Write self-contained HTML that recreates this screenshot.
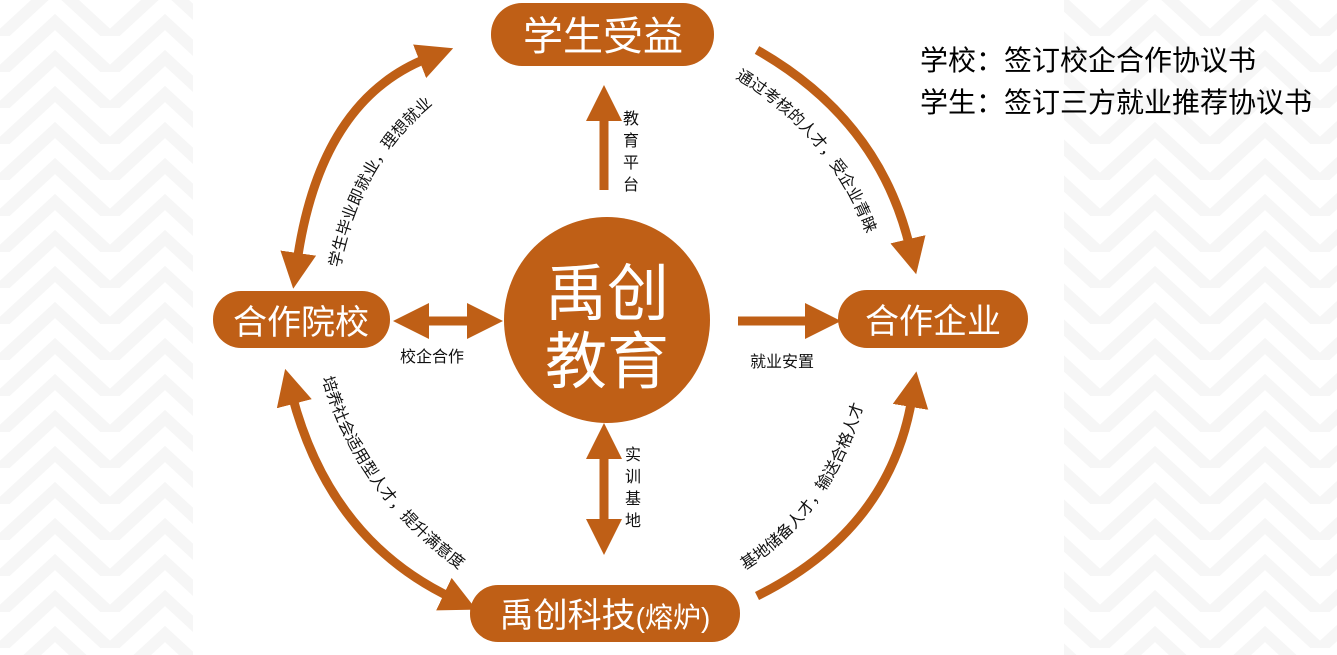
<!DOCTYPE html>
<html><head><meta charset="utf-8"><style>
html,body{margin:0;padding:0;background:#fff;}
svg{display:block;font-family:"Liberation Sans","Noto Sans CJK SC",sans-serif;}
</style></head><body>
<svg width="1337" height="655" viewBox="0 0 1337 655" xmlns="http://www.w3.org/2000/svg">
<defs>
<pattern id="chev" width="110" height="36" patternUnits="userSpaceOnUse">
<polyline points="-10,46 55,-14 120,46" fill="none" stroke="#f6f6f6" stroke-width="12"/>
<polyline points="-10,82 55,22 120,82" fill="none" stroke="#f6f6f6" stroke-width="12"/>
</pattern>
<marker id="ah" markerWidth="4" markerHeight="4" refX="1" refY="2" orient="auto" markerUnits="strokeWidth">
<path d="M0,0 L4,2 L0,4 Z" fill="#bf5f16"/></marker>
<marker id="ahs" markerWidth="4" markerHeight="4" refX="3" refY="2" orient="auto" markerUnits="strokeWidth">
<path d="M4,0 L0,2 L4,4 Z" fill="#bf5f16"/></marker>
<path id="t1" d="M340 268 Q 365 140 468 80"/>
<path id="t2" d="M735 78 Q 840 140 875 260"/>
<path id="t3" d="M322 378 Q 360 510 490 590"/>
<path id="t4" d="M745 570 Q 840 510 870 380"/>
</defs>
<rect x="0" y="0" width="193" height="655" fill="url(#chev)"/>
<rect x="1064" y="0" width="273" height="655" fill="url(#chev)"/>
<g fill="#bf5f16">
<circle cx="607" cy="320" r="103"/>
<rect x="491" y="3" width="223" height="63" rx="31"/>
<rect x="213" y="291" width="177" height="57" rx="28"/>
<rect x="838" y="290" width="190" height="58" rx="29"/>
<rect x="470" y="585" width="270" height="57" rx="28"/>
</g>
<g fill="none" stroke="#bf5f16" stroke-width="9">
<path d="M297 262 Q 320 100 428 58" marker-start="url(#ahs)" marker-end="url(#ah)"/>
<path d="M757 50 Q 880 120 910 248" marker-end="url(#ah)"/>
<path d="M292 395 Q 330 540 452 598" marker-start="url(#ahs)" marker-end="url(#ah)"/>
<path d="M757 596 Q 890 530 912 398" marker-end="url(#ah)"/>
<path d="M604 190 L604 112" marker-end="url(#ah)"/>
<path d="M604 450 L604 528" marker-start="url(#ahs)" marker-end="url(#ah)"/>
<path d="M420 321 L476 321" marker-start="url(#ahs)" marker-end="url(#ah)"/>
<path d="M738 321 L814 321" marker-end="url(#ah)"/>
</g>
<g fill="#fff" text-anchor="middle">
<text x="603" y="50" font-size="40">学生受益</text>
<text x="301" y="334" font-size="34">合作院校</text>
<text x="933" y="333" font-size="34">合作企业</text>
<text x="605" y="627" font-size="34">禹创科技<tspan font-size="28">(熔炉)</tspan></text>
<text x="607" y="315" font-size="62">禹创</text>
<text x="607" y="383" font-size="62">教育</text>
</g>
<g fill="#111" font-size="16">
<text x="432" y="362" text-anchor="middle">校企合作</text>
<text x="782" y="367" text-anchor="middle">就业安置</text>
<g text-anchor="middle">
<text x="631" y="124">教</text><text x="631" y="146">育</text><text x="631" y="168">平</text><text x="631" y="190">台</text>
<text x="633" y="460">实</text><text x="633" y="482">训</text><text x="633" y="504">基</text><text x="633" y="526">地</text>
</g>
<text><textPath href="#t1">学生毕业即就业，理想就业</textPath></text>
<text><textPath href="#t2">通过考核的人才，受企业青睐</textPath></text>
<text><textPath href="#t3">培养社会适用型人才，提升满意度</textPath></text>
<text><textPath href="#t4">基地储备人才，输送合格人才</textPath></text>
</g>
<g fill="#000" font-size="28">
<text x="920" y="70">学校：签订校企合作协议书</text>
<text x="920" y="112">学生：签订三方就业推荐协议书</text>
</g>
</svg>
</body></html>
